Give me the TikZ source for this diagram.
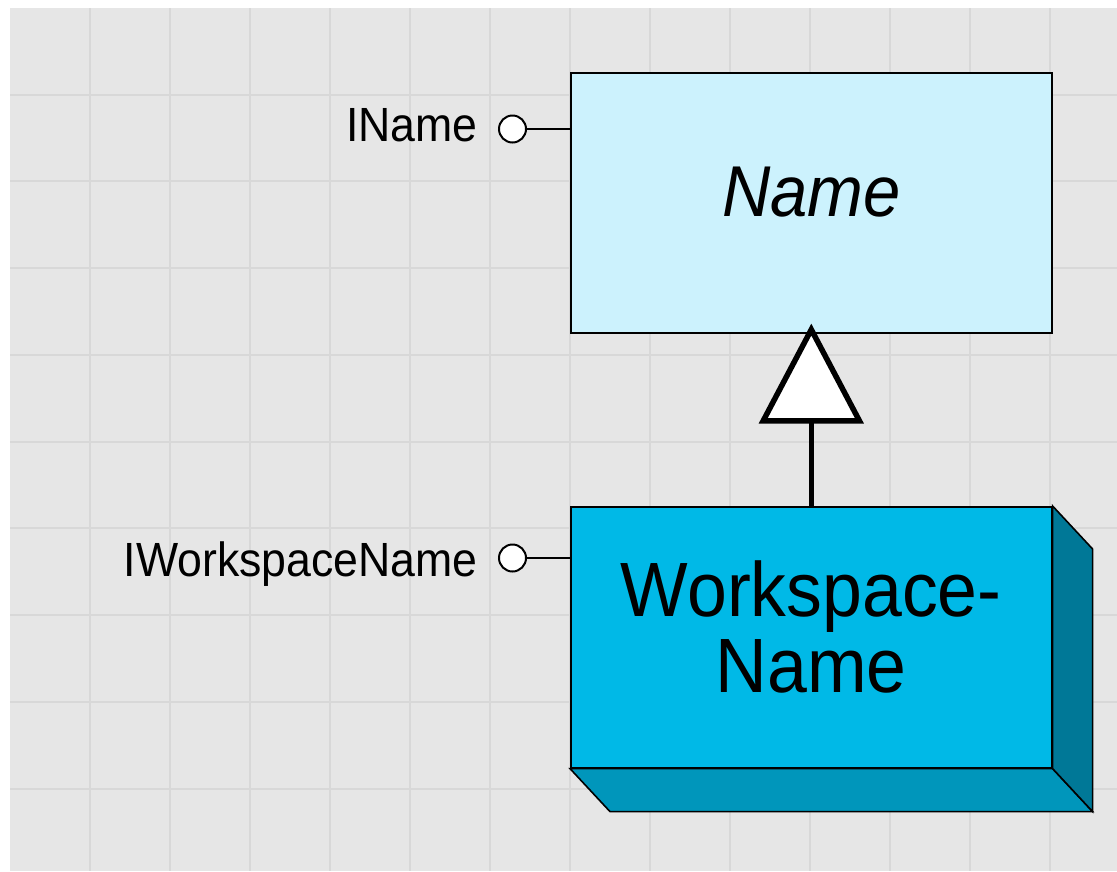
\documentclass[tikz,border=0pt]{standalone}
\usepackage{fontspec}
\setmainfont{Liberation Sans}[FakeStretch=0.93]
\usetikzlibrary{arrows.meta}

\definecolor{paper}{HTML}{E6E6E6}
\definecolor{gridline}{HTML}{D8D8D8}
\definecolor{abstractfill}{HTML}{CCF2FD}
\definecolor{frontface}{HTML}{00B9E7}
\definecolor{bottomface}{HTML}{0096BB}
\definecolor{sideface}{HTML}{007897}

\tikzset{
  gridrule/.style={gridline, line width=2pt},
  classbox/.style={draw=black, line width=1.6pt, anchor=north west,
    minimum width=481pt, inner sep=0pt},
  face/.style={draw=black, line width=1.6pt, line join=miter},
  socket/.style={circle, draw=black, fill=white, line width=2pt,
    minimum size=27pt, inner sep=0pt},
  wire/.style={draw=black, line width=2pt},
  iflabel/.style={anchor=base east, inner sep=0pt,
    font=\fontsize{48}{56}\selectfont},
  generalization/.style={draw=black, line width=5.5pt, shorten >=-10pt,
    -{Triangle[fill=white, length=100pt, width=104pt]}},
}

\begin{document}
\begin{tikzpicture}[x=1pt, y=-1pt]
  \useasboundingbox (0,0) rectangle (1117,871);

  % drafting-paper background
  \fill[paper] (10,8) rectangle (1117,871);
  \foreach \i in {0,...,12}
    \draw[gridrule] (90+80*\i,8) -- (90+80*\i,871);
  \foreach \j in {0,...,8}
    \draw[gridrule] (10,94.5+86.75*\j) -- (1117,94.5+86.75*\j);

  % abstract class
  \node[classbox, fill=abstractfill, minimum height=260pt,
        font=\fontsize{72}{80}\selectfont\itshape, text depth=22pt]
        (name) at (570,72) {Name};

  % concrete (coclass) box with its 3-D faces
  \node[classbox, fill=frontface, minimum height=261pt, align=center,
        font=\fontsize{77}{76}\selectfont, text depth=22pt]
        (ws) at (570,506) {Workspace-\\Name};
  \filldraw[face, fill=bottomface]
    (ws.south west) -- ++(40,43) -- ([shift={(40,43)}]ws.south east)
    -- (ws.south east) -- cycle;
  \filldraw[face, fill=sideface]
    (ws.north east) -- ++(40,43) -- ([shift={(40,43)}]ws.south east)
    -- (ws.south east) -- cycle;

  % inheritance
  \draw[generalization] (ws.north) -- (name.south);

  % interfaces
  \node[socket] (iname) at (512.5,129) {};
  \draw[wire] (iname) -- (iname -| name.west);
  \node[iflabel] (inamelabel) at (478,141.7) {IName};

  \node[socket] (iws) at (512.5,558) {};
  \draw[wire] (iws) -- (iws -| ws.west);
  \node[iflabel] (iwslabel) at (478,576.7) {IWorkspaceName};
\end{tikzpicture}
\end{document}
